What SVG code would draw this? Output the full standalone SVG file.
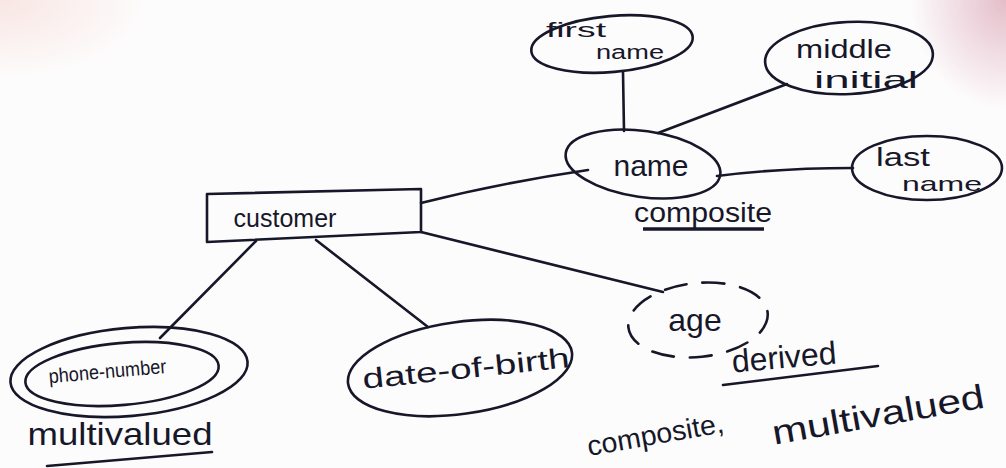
<svg xmlns="http://www.w3.org/2000/svg" width="1006" height="468" viewBox="0 0 1006 468">
  <defs>
    <radialGradient id="tintLeft" cx="0" cy="0" r="1" gradientUnits="objectBoundingBox">
      <stop offset="0" stop-color="#f3cfca" stop-opacity="0.5"/>
      <stop offset="1" stop-color="#f3cfca" stop-opacity="0"/>
    </radialGradient>
    <radialGradient id="tintRight" cx="1" cy="0" r="1" gradientUnits="objectBoundingBox">
      <stop offset="0" stop-color="#d9a3b4" stop-opacity="0.7"/>
      <stop offset="1" stop-color="#d9a3b4" stop-opacity="0"/>
    </radialGradient>
    <style>
      .ink { fill: none; stroke: #17172a; stroke-width: 2.6; stroke-linecap: round; stroke-linejoin: round; }
      .dash { stroke-dasharray: 22 16; }
      .lbl { font-family: "Liberation Sans", "DejaVu Sans", sans-serif; fill: #17172a; }
    </style>
  </defs>

  <!-- paper -->
  <rect width="1006" height="468" fill="#fdfcfc"/>
  <rect x="0" y="0" width="150" height="80" fill="url(#tintLeft)"/>
  <rect x="910" y="0" width="96" height="110" fill="url(#tintRight)"/>

  <!-- connectors -->
  <g id="connectors" class="ink">
    <path d="M623 72 L624 131"/>
    <path d="M787 84 L658 133"/>
    <path d="M717 176 Q780 168 853 168"/>
    <path d="M421 203 Q500 183 588 170"/>
    <path d="M421 232 L663 292"/>
    <path d="M256 241 L160 338"/>
    <path d="M316 240 L428 327"/>
  </g>

  <!-- entity -->
  <g id="customer">
    <polygon class="ink" points="207,194 421,189 421,232 207,242"/>
    <text class="lbl" x="285" y="227" font-size="25" text-anchor="middle">customer</text>
  </g>

  <!-- composite attribute and its parts -->
  <g id="name">
    <ellipse class="ink" cx="643" cy="164" rx="78" ry="33" transform="rotate(8 643 164)"/>
    <text class="lbl" x="651" y="176" font-size="30" text-anchor="middle">name</text>
    <text class="lbl" x="703" y="222" font-size="27" text-anchor="middle" textLength="138" lengthAdjust="spacingAndGlyphs">composite</text>
    <path d="M643 229 L764 229" fill="none" stroke="#17172a" stroke-width="3.5"/>
  </g>

  <g id="first-name">
    <ellipse class="ink" cx="612" cy="44" rx="81" ry="28" transform="rotate(-5 612 44)"/>
    <text class="lbl" x="576" y="37" font-size="21" text-anchor="middle" textLength="60" lengthAdjust="spacingAndGlyphs">first</text>
    <text class="lbl" x="630" y="59" font-size="20" text-anchor="middle" textLength="68" lengthAdjust="spacingAndGlyphs">name</text>
  </g>

  <g id="middle-initial">
    <ellipse class="ink" cx="849" cy="58" rx="84" ry="36" transform="rotate(-3 849 58)"/>
    <text class="lbl" x="844" y="58" font-size="25" text-anchor="middle" textLength="96" lengthAdjust="spacingAndGlyphs">middle</text>
    <text class="lbl" x="866" y="88" font-size="24" text-anchor="middle" textLength="104" lengthAdjust="spacingAndGlyphs">initial</text>
  </g>

  <g id="last-name">
    <ellipse class="ink" cx="927" cy="168" rx="75" ry="32"/>
    <text class="lbl" x="903" y="166" font-size="26" text-anchor="middle" textLength="54" lengthAdjust="spacingAndGlyphs">last</text>
    <text class="lbl" x="942" y="191" font-size="21" text-anchor="middle" textLength="80" lengthAdjust="spacingAndGlyphs">name</text>
  </g>

  <!-- multivalued attribute -->
  <g id="phone-number">
    <ellipse class="ink" cx="129" cy="372" rx="119" ry="44" transform="rotate(-5 129 372)"/>
    <ellipse class="ink" cx="122" cy="374" rx="97" ry="31" transform="rotate(-5 122 374)"/>
    <text class="lbl" x="108" y="378" font-size="20" text-anchor="middle" textLength="118" lengthAdjust="spacingAndGlyphs" transform="rotate(-5 108 378)">phone-number</text>
    <text class="lbl" x="120" y="445" font-size="32" text-anchor="middle" textLength="185" lengthAdjust="spacingAndGlyphs">multivalued</text>
    <path class="ink" d="M47 466 L212 452"/>
  </g>

  <g id="date-of-birth">
    <ellipse class="ink" cx="460" cy="368" rx="113" ry="46" transform="rotate(-8 460 368)"/>
    <text class="lbl" x="467" y="378" font-size="28" text-anchor="middle" textLength="208" lengthAdjust="spacingAndGlyphs" transform="rotate(-6 467 378)">date-of-birth</text>
  </g>

  <!-- derived attribute -->
  <g id="age">
    <ellipse class="ink dash" cx="698" cy="320" rx="70" ry="37" transform="rotate(-6 698 320)"/>
    <text class="lbl" x="695" y="331" font-size="32" text-anchor="middle">age</text>
    <text class="lbl" x="785" y="368" font-size="32" text-anchor="middle" transform="rotate(-5 785 368)">derived</text>
    <path class="ink" d="M723 385 L878 366"/>
  </g>

  <!-- note along the bottom edge -->
  <g id="note">
    <text class="lbl" x="657" y="444" font-size="28" text-anchor="middle" textLength="138" lengthAdjust="spacingAndGlyphs" transform="rotate(-10 657 444)">composite,</text>
    <text class="lbl" x="880" y="426" font-size="34" text-anchor="middle" textLength="215" lengthAdjust="spacingAndGlyphs" transform="rotate(-10 880 426)">multivalued</text>
  </g>
</svg>
